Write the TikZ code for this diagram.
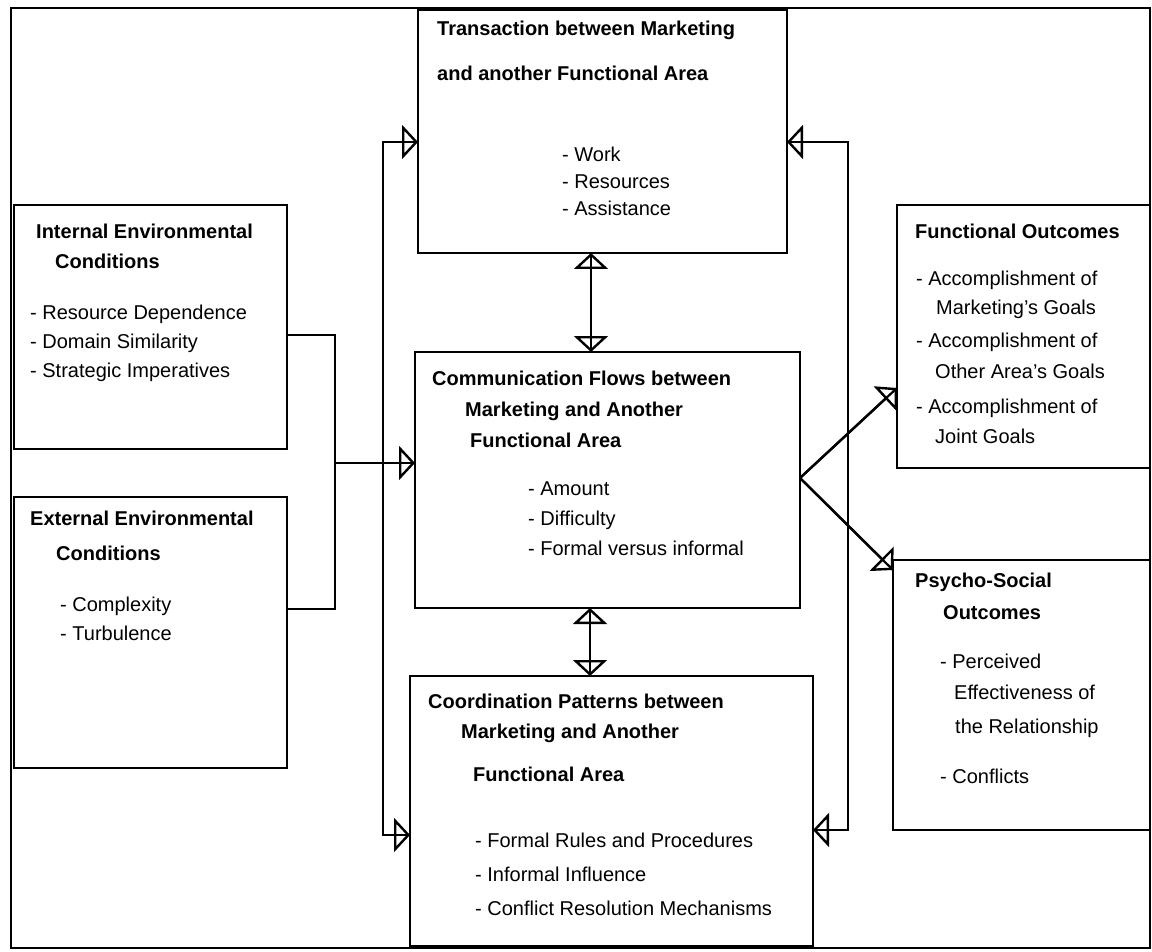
\documentclass[tikz,border=0pt]{standalone}
\usepackage{fontspec}
\setmainfont{Liberation Sans}
\usetikzlibrary{arrows.meta}
\begin{document}
\begin{tikzpicture}[x=1pt,y=-1pt,
  box/.style={draw,line width=2.6pt,inner sep=0pt,outer sep=0pt,rectangle},
  txt/.style={anchor=west,inner sep=0pt,text height=15pt,text depth=4pt,
    font=\fontsize{20}{28}\selectfont},
  ttl/.style={txt,font=\fontsize{20}{28}\selectfont\bfseries},
  wire/.style={line width=2.2pt},
  tip/.style={line width=2.4pt,-{Triangle[open,length=16pt,width=34pt]}}]
\useasboundingbox (0,0) rectangle (1152,952);
% outer frame
\draw[line width=2pt] (11,8) rectangle (1150,948);

% boxes
\node[box,minimum width=369pt,minimum height=243pt] (T) at (602.5,131.5) {};
\node[box,minimum width=385pt,minimum height=256pt] (M) at (607.5,480) {};
\node[box,minimum width=403pt,minimum height=270pt] (C) at (611.5,811) {};
\node[box,minimum width=273pt,minimum height=244pt] (I) at (150.5,327) {};
\node[box,minimum width=273pt,minimum height=271pt] (E) at (150.5,632.5) {};
\node[box,minimum width=253pt,minimum height=263pt] (F) at (1023.5,336.5) {};
\node[box,minimum width=257pt,minimum height=270pt] (P) at (1021.5,695) {};

% texts: internal conditions
\node[ttl] (i1) at (36,233) {Internal Environmental};
\node[ttl] (i2) at (55,263) {Conditions};
\node[txt] (i3) at (30,314) {- Resource Dependence};
\node[txt] (i4) at (30,343) {- Domain Similarity};
\node[txt] (i5) at (30,372) {- Strategic Imperatives};
% external conditions
\node[ttl] (e1) at (30,520) {External Environmental};
\node[ttl] (e2) at (56,555) {Conditions};
\node[txt] (e3) at (60,606) {- Complexity};
\node[txt] (e4) at (60,635) {- Turbulence};
% transaction
\node[ttl] (t1) at (437,30) {Transaction between Marketing};
\node[ttl] (t2) at (437,75) {and another Functional Area};
\node[txt] (t3) at (562,156) {- Work};
\node[txt] (t4) at (562,183) {- Resources};
\node[txt] (t5) at (562,210) {- Assistance};
% communication
\node[ttl] (m1) at (432,380) {Communication Flows between};
\node[ttl] (m2) at (465,411) {Marketing and Another};
\node[ttl] (m3) at (470,442) {Functional Area};
\node[txt] (m4) at (528,490) {- Amount};
\node[txt] (m5) at (528,520) {- Difficulty};
\node[txt] (m6) at (528,550) {- Formal versus informal};
% coordination
\node[ttl] (c1) at (428,703) {Coordination Patterns between};
\node[ttl] (c2) at (461,733) {Marketing and Another};
\node[ttl] (c3) at (473,776) {Functional Area};
\node[txt] (c4) at (475,842) {- Formal Rules and Procedures};
\node[txt] (c5) at (475,876) {- Informal Influence};
\node[txt] (c6) at (475,910) {- Conflict Resolution Mechanisms};
% functional outcomes
\node[ttl] (f1) at (915,233) {Functional Outcomes};
\node[txt] (f2) at (916,280) {- Accomplishment of};
\node[txt] (f3) at (936,309) {Marketing's Goals};
\node[txt] (f4) at (916,342) {- Accomplishment of};
\node[txt] (f5) at (935,373) {Other Area's Goals};
\node[txt] (f6) at (916,408) {- Accomplishment of};
\node[txt] (f7) at (935,438) {Joint Goals};
% psycho-social outcomes
\node[ttl] (p1) at (915,582) {Psycho-Social};
\node[ttl] (p2) at (943,614) {Outcomes};
\node[txt] (p3) at (940,663) {- Perceived};
\node[txt] (p4) at (954,694) {Effectiveness of};
\node[txt] (p5) at (955,728) {the Relationship};
\node[txt] (p6) at (940,778) {- Conflicts};

% junction points
\coordinate (bt) at (335,335);
\coordinate (bm) at (335,463);
\coordinate (bb) at (335,609);
\coordinate (lt) at (383,142);
\coordinate (lb) at (383,835);
\coordinate (rt) at (848,142);
\coordinate (rb) at (848,830);
\coordinate (hub) at (800,478);

% bracket joining the environmental conditions
\draw[wire] (I.east |- bt) -- (bt) -- (bb) -- (E.east |- bb);
\draw[wire] (bm) -- (M.west |- bm);
\draw[tip] (bm) -- (M.west |- bm);

% left loop: transaction <-> coordination
\draw[wire] (T.west |- lt) -- (lt) -- (lb) -- (C.west |- lb);
\draw[tip] (lt) -- (T.west |- lt);
\draw[tip] (lb) -- (C.west |- lb);

% right loop: transaction <-> coordination
\draw[wire] (T.east |- rt) -- (rt) -- (rb) -- (C.east |- rb);
\draw[tip] (rt) -- (T.east |- rt);
\draw[tip] (rb) -- (C.east |- rb);

% vertical two-way links
\draw[wire] (591,253) -- (591,352);
\draw[tip] (591,300) -- (T.south -| 591,0);
\draw[tip] (591,300) -- (M.north -| 591,0);
\draw[wire] (590,608) -- (590,676);
\draw[tip] (590,640) -- (M.south -| 590,0);
\draw[tip] (590,640) -- (C.north -| 590,0);

% outcomes
\draw[wire] (hub) -- (F.west |- 0,388);
\draw[tip] (hub) -- (F.west |- 0,388);
\draw[wire] (hub) -- (P.west |- 0,570);
\draw[tip] (hub) -- (P.west |- 0,570);
\end{tikzpicture}
\end{document}
